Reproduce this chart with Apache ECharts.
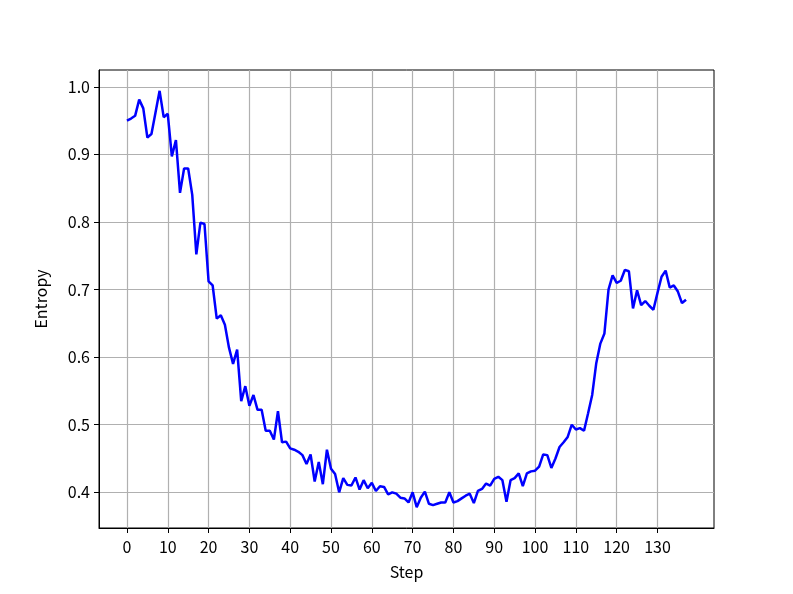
<!DOCTYPE html>
<html>
<head>
<meta charset="utf-8">
<script src="https://cdn.jsdelivr.net/npm/echarts@6/dist/echarts.min.js"></script>
<style>
  html, body { margin: 0; padding: 0; background: #fff; }
  #chart { width: 793px; height: 594px; }
</style>
</head>
<body>
<div id="chart"></div>
<script>
const entropy = [
  0.950, 0.953, 0.957, 0.981, 0.968, 0.925, 0.930, 0.962, 0.994, 0.955,
  0.960, 0.897, 0.921, 0.843, 0.879, 0.879, 0.840, 0.752, 0.799, 0.797,
  0.712, 0.706, 0.657, 0.662, 0.648, 0.614, 0.590, 0.611, 0.535, 0.557,
  0.528, 0.544, 0.522, 0.522, 0.491, 0.491, 0.478, 0.520, 0.474, 0.475,
  0.465, 0.463, 0.460, 0.455, 0.442, 0.456, 0.416, 0.445, 0.412, 0.463,
  0.435, 0.427, 0.400, 0.421, 0.411, 0.410, 0.422, 0.404, 0.418, 0.406,
  0.414, 0.402, 0.409, 0.408, 0.397, 0.400, 0.398, 0.392, 0.391, 0.385,
  0.400, 0.378, 0.392, 0.401, 0.383, 0.381, 0.383, 0.385, 0.385, 0.400,
  0.385, 0.387, 0.391, 0.395, 0.398, 0.384, 0.402, 0.405, 0.413, 0.410,
  0.420, 0.423, 0.418, 0.386, 0.418, 0.421, 0.428, 0.409, 0.428, 0.431,
  0.432, 0.438, 0.456, 0.455, 0.436, 0.450, 0.467, 0.474, 0.482, 0.500,
  0.493, 0.495, 0.491, 0.517, 0.544, 0.591, 0.620, 0.635, 0.700, 0.721,
  0.710, 0.713, 0.729, 0.727, 0.672, 0.699, 0.677, 0.683, 0.676, 0.670,
  0.695, 0.719, 0.728, 0.703, 0.706, 0.697, 0.680, 0.685
];
const steps = entropy.map((v, i) => i);
const xTicks = [0, 10, 20, 30, 40, 50, 60, 70, 80, 90, 100, 110, 120, 130];
const yTicks = [0.4, 0.5, 0.6, 0.7, 0.8, 0.9, 1.0];

const fontFamily = '"Noto Sans CJK JP", "DejaVu Sans", sans-serif';

// matplotlib style 5% margins
const xMin = -0.05 * (steps.length - 1);
const xMax = (steps.length - 1) * 1.05;
const yLo = Math.min(...entropy), yHi = Math.max(...entropy);
const yMin = yLo - 0.05 * (yHi - yLo);
const yMax = yHi + 0.05 * (yHi - yLo);

const chart = echarts.init(document.getElementById('chart'), null, { renderer: 'canvas' });
chart.setOption({
  animation: false,
  backgroundColor: '#fff',
  textStyle: { fontFamily },
  grid: {
    left: 99, right: 79, top: 70, bottom: 66,
    show: true, borderColor: '#000', borderWidth: 1, backgroundColor: 'transparent'
  },
  xAxis: {
    type: 'value',
    min: xMin,
    max: xMax,
    name: 'Step',
    nameLocation: 'middle',
    nameGap: 36,
    nameTextStyle: { color: '#000', fontSize: 16, fontFamily },
    axisLine: { show: true, onZero: false, lineStyle: { color: '#000', width: 1 } },
    axisTick: { show: true, customValues: xTicks, length: 5, inside: false, lineStyle: { color: '#000' } },
    axisLabel: { customValues: xTicks, color: '#000', fontSize: 16, margin: 11, fontFamily },
    splitLine: { show: true, lineStyle: { color: '#b0b0b0', width: 1.2 } }
  },
  yAxis: {
    type: 'value',
    min: yMin,
    max: yMax,
    name: 'Entropy',
    nameLocation: 'middle',
    nameGap: 50,
    nameRotate: 90,
    nameTextStyle: { color: '#000', fontSize: 16, fontFamily },
    axisLine: { show: true, onZero: false, lineStyle: { color: '#000', width: 1 } },
    axisTick: { show: true, customValues: yTicks, length: 5, inside: false, lineStyle: { color: '#000' } },
    axisLabel: {
      customValues: yTicks, color: '#000', fontSize: 16, margin: 9, fontFamily,
      formatter: v => v.toFixed(1)
    },
    splitLine: { show: true, lineStyle: { color: '#b0b0b0', width: 1.2 } }
  },
  series: [{
    type: 'line',
    data: steps.map((s, i) => [s, entropy[i]]),
    showSymbol: false,
    lineStyle: { color: '#0000ff', width: 2.5 },
    itemStyle: { color: '#0000ff' }
  }]
});
</script>
</body>
</html>
